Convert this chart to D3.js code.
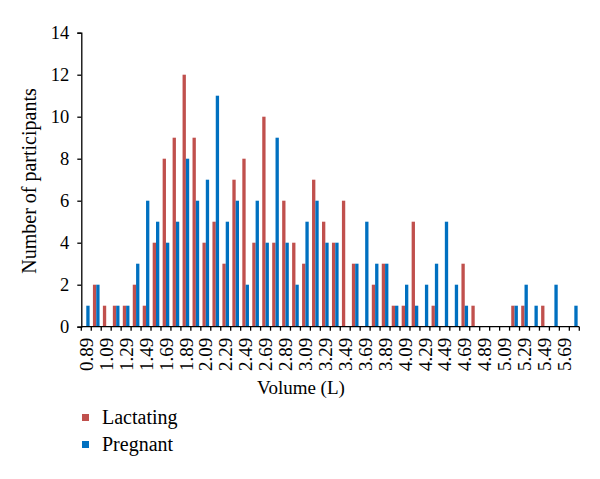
<!DOCTYPE html>
<html>
<head>
<meta charset="utf-8">
<script src="https://cdn.jsdelivr.net/npm/d3@7"></script>
<style>
  body { margin: 0; background: #fff; }
  svg { display: block; }
  text { font-family: "Liberation Serif", "Times New Roman", serif; fill: #000; }
</style>
</head>
<body>
<svg id="chart" width="600" height="479"></svg>
<script>
const categories = ["0.89","0.99","1.09","1.19","1.29","1.39","1.49","1.59","1.69","1.79",
  "1.89","1.99","2.09","2.19","2.29","2.39","2.49","2.59","2.69","2.79",
  "2.89","2.99","3.09","3.19","3.29","3.39","3.49","3.59","3.69","3.79",
  "3.89","3.99","4.09","4.19","4.29","4.39","4.49","4.59","4.69","4.79",
  "4.89","4.99","5.09","5.19","5.29","5.39","5.49","5.59","5.69","5.79"];
const lactating = [0,2,1,1,1,2,1,4,8,9, 12,9,4,5,3,7,8,4,10,4, 6,4,3,7,5,4,6,3,0,2, 3,1,1,5,0,1,0,0,3,1, 0,0,0,1,1,0,1,0,0,0];
const pregnant  = [1,2,0,1,1,3,6,5,4,5, 8,6,7,11,5,6,2,6,4,9, 4,2,5,6,4,4,0,3,5,3, 3,1,2,1,2,3,5,2,1,0, 0,0,0,1,2,1,0,2,0,1];
const seriesNames = ["Lactating", "Pregnant"];
const seriesColors = ["#C0504D", "#0070C0"];
const xTickLabels = ["0.89","1.09","1.29","1.49","1.69","1.89","2.09","2.29","2.49","2.69","2.89","3.09","3.29","3.49","3.69","3.89","4.09","4.29","4.49","4.69","4.89","5.09","5.29","5.49","5.69"];
const yTicks = [0,2,4,6,8,10,12,14];

(function () {
const svg = d3.select("#chart");
const mLeft = 81.3, mRight = 579.3, mTop = 32.7, mBottom = 326.7;

const x = d3.scaleBand().domain(categories).range([mLeft, mRight]).paddingInner(0).paddingOuter(0);
const x1 = d3.scaleBand().domain(seriesNames).range([0, x.bandwidth()]).paddingInner(0).paddingOuter(0.5);
const y = d3.scaleLinear().domain([0, 14]).range([mBottom, mTop]);
const color = d3.scaleOrdinal().domain(seriesNames).range(seriesColors);

const data = categories.map((c, i) => ({cat: c, values: [
  {name: "Lactating", v: lactating[i]},
  {name: "Pregnant", v: pregnant[i]}
]}));

// bars
const g = svg.append("g");
g.selectAll("g.cat").data(data).join("g")
  .attr("class", "cat")
  .attr("transform", d => `translate(${x(d.cat)},0)`)
  .selectAll("rect").data(d => d.values.filter(v => v.v > 0)).join("rect")
  .attr("x", d => x1(d.name))
  .attr("width", x1.bandwidth())
  .attr("y", d => y(d.v))
  .attr("height", d => y(0) - y(d.v))
  .attr("fill", d => color(d.name));

// y axis
const yAxis = svg.append("g")
  .attr("transform", `translate(${mLeft},0)`)
  .call(d3.axisLeft(y).tickValues(yTicks).tickSize(4).tickPadding(8).tickFormat(d3.format("d")));
yAxis.select(".domain").attr("stroke", "#000").attr("stroke-width", 1.3);
yAxis.selectAll(".tick line").attr("stroke", "#000").attr("stroke-width", 1.3);
yAxis.selectAll(".tick text").style("font-size", "18.5px").style("font-family", "'Liberation Serif', serif");

// x axis line
svg.append("line")
  .attr("x1", mLeft).attr("x2", mRight)
  .attr("y1", y(0)).attr("y2", y(0))
  .attr("stroke", "#000").attr("stroke-width", 1.3);

// x boundary ticks
svg.append("g").selectAll("line").data(categories).join("line")
  .attr("x1", d => x(d) + x.bandwidth()).attr("x2", d => x(d) + x.bandwidth())
  .attr("y1", y(0)).attr("y2", y(0) + 4)
  .attr("stroke", "#000").attr("stroke-width", 1.3);
svg.append("line")
  .attr("x1", mLeft).attr("x2", mLeft)
  .attr("y1", y(0)).attr("y2", y(0) + 4)
  .attr("stroke", "#000").attr("stroke-width", 1.3);

// x labels
const xAxis = svg.append("g")
  .attr("transform", `translate(0,${mBottom})`)
  .call(d3.axisBottom(x).tickValues(xTickLabels).tickSize(0).tickPadding(0));
xAxis.select(".domain").remove();
xAxis.selectAll(".tick text")
  .style("font-size", "19px")
  .style("font-family", "'Liberation Serif', serif")
  .attr("text-anchor", "end")
  .attr("transform", "rotate(-90)")
  .attr("x", -11)
  .attr("y", 0)
  .attr("dy", "0.35em");

// axis titles
svg.append("text")
  .attr("x", 301).attr("y", 394)
  .attr("text-anchor", "middle")
  .style("font-size", "19px")
  .text("Volume (L)");

svg.append("text")
  .attr("transform", "translate(36,181) rotate(-90)")
  .attr("text-anchor", "middle")
  .style("font-size", "20px")
  .text("Number of participants");

// legend
const legend = svg.append("g");
seriesNames.forEach((n, i) => {
  const ly = 418 + i * 27;
  legend.append("rect")
    .attr("x", 82).attr("y", ly - 4).attr("width", 7).attr("height", 7)
    .attr("fill", color(n));
  legend.append("text")
    .attr("x", 102).attr("y", ly + 6)
    .style("font-size", "20px")
    .text(n);
});
})();
</script>
</body>
</html>
